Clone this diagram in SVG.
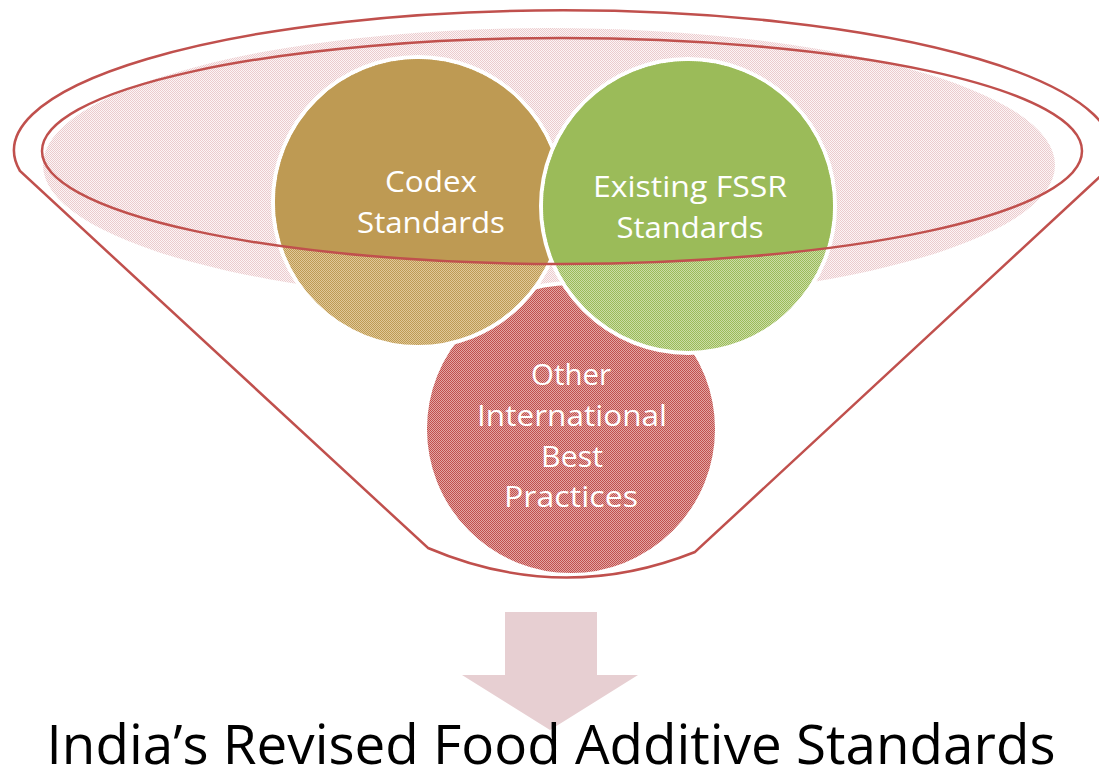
<svg xmlns="http://www.w3.org/2000/svg" width="1099" height="780" viewBox="0 0 1099 780">
<style>
.out{fill:none;stroke:#C0504D;stroke-width:2.5}
.ring{stroke:#ffffff;stroke-width:4}
.lbl{font-family:"Open Sans","Liberation Sans",sans-serif;font-size:30px;fill:#ffffff;text-anchor:middle}
.title{font-family:"Open Sans","Liberation Sans",sans-serif;font-size:54px;fill:#000000;text-anchor:middle}
</style>
<defs>
<pattern id="pPink" patternUnits="userSpaceOnUse" width="2" height="2">
<rect width="2" height="2" fill="#FCF4F5"/>
<rect x="0" y="0" width="1" height="1" fill="#EBCBCD"/><rect x="1" y="1" width="1" height="1" fill="#EBCBCD"/>
</pattern>
<pattern id="pRed" patternUnits="userSpaceOnUse" width="2" height="2">
<rect width="2" height="2" fill="#E3A5A3"/>
<rect x="0" y="0" width="1" height="1" fill="#C0504D"/><rect x="1" y="1" width="1" height="1" fill="#C0504D"/>
</pattern>
<pattern id="pGold" patternUnits="userSpaceOnUse" width="2" height="2">
<rect width="2" height="2" fill="#E0C898"/>
<rect x="0" y="0" width="1" height="1" fill="#BE9A53"/><rect x="1" y="1" width="1" height="1" fill="#BE9A53"/>
</pattern>
<pattern id="pGreen" patternUnits="userSpaceOnUse" width="2" height="2">
<rect width="2" height="2" fill="#CBDDA6"/>
<rect x="0" y="0" width="1" height="1" fill="#9BBB59"/><rect x="1" y="1" width="1" height="1" fill="#9BBB59"/>
</pattern>
<clipPath id="rim"><ellipse cx="562" cy="151" rx="520" ry="113"/></clipPath>
</defs>

<g id="funnel-fill">
<ellipse cx="549" cy="165" rx="506" ry="137" fill="url(#pPink)"/>
</g>

<g id="node-other">
<circle cx="571" cy="429" r="146" fill="url(#pRed)" class="ring"/>
<text class="lbl" x="571" y="385" textLength="80" lengthAdjust="spacingAndGlyphs">Other</text>
<text class="lbl" x="572" y="426" textLength="190" lengthAdjust="spacingAndGlyphs">International</text>
<text class="lbl" x="572" y="467" textLength="62" lengthAdjust="spacingAndGlyphs">Best</text>
<text class="lbl" x="571" y="507" textLength="134" lengthAdjust="spacingAndGlyphs">Practices</text>
</g>

<g id="node-codex">
<circle cx="418" cy="202" r="145" fill="url(#pGold)" class="ring"/>
<circle cx="418" cy="202" r="143" fill="#BE9A53" clip-path="url(#rim)"/>
<text class="lbl" x="431" y="192" textLength="92" lengthAdjust="spacingAndGlyphs">Codex</text>
<text class="lbl" x="431" y="233" textLength="148" lengthAdjust="spacingAndGlyphs">Standards</text>
</g>

<g id="node-fssr">
<circle cx="688" cy="206" r="147" fill="url(#pGreen)" class="ring"/>
<circle cx="688" cy="206" r="145" fill="#9BBB59" clip-path="url(#rim)"/>
<text class="lbl" x="690" y="197" textLength="194" lengthAdjust="spacingAndGlyphs">Existing FSSR</text>
<text class="lbl" x="690" y="238" textLength="147" lengthAdjust="spacingAndGlyphs">Standards</text>
</g>

<g id="funnel-outline">
<ellipse class="out" cx="562" cy="151" rx="520" ry="113"/>
<path class="out" d="M 20 171 A 549 140 0 1 1 1106 171 L 695 552 Q 562 605 428 548 Z"/>
</g>

<g id="connectors">
<path d="M 505 612 L 597 612 L 597 675 L 638 675 L 550 730 L 462 675 L 505 675 Z" fill="#E7CFD2"/>
</g>

<g id="node-result">
<text class="title" x="551" y="764" textLength="1009" lengthAdjust="spacingAndGlyphs">India’s Revised Food Additive Standards</text>
</g>
</svg>
